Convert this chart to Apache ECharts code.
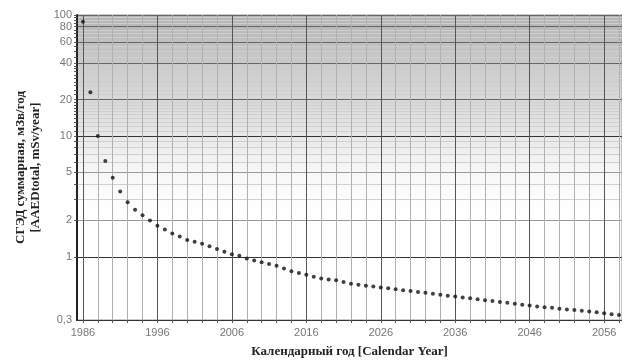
<!DOCTYPE html>
<html>
<head>
<meta charset="utf-8">
<script src="https://cdn.jsdelivr.net/npm/echarts@6/dist/echarts.min.js"></script>
<style>
  html, body { margin: 0; padding: 0; background: #fff; }
  #chart { width: 622px; height: 363px; }
</style>
</head>
<body>
<div id="chart"></div>
<script>
// calendar years, one point per year
const years = [
  1986, 1987, 1988, 1989, 1990, 1991, 1992, 1993, 1994, 1995,
  1996, 1997, 1998, 1999, 2000, 2001, 2002, 2003, 2004, 2005,
  2006, 2007, 2008, 2009, 2010, 2011, 2012, 2013, 2014, 2015,
  2016, 2017, 2018, 2019, 2020, 2021, 2022, 2023, 2024, 2025,
  2026, 2027, 2028, 2029, 2030, 2031, 2032, 2033, 2034, 2035,
  2036, 2037, 2038, 2039, 2040, 2041, 2042, 2043, 2044, 2045,
  2046, 2047, 2048, 2049, 2050, 2051, 2052, 2053, 2054, 2055,
  2056, 2057, 2058
];
// СГЭД суммарная, мЗв/год
const dose = [
  88, 23, 10, 6.2, 4.5, 3.47, 2.83, 2.45, 2.21, 2.0,
  1.81, 1.68, 1.56, 1.47, 1.38, 1.33, 1.28, 1.22, 1.16, 1.10,
  1.05, 1.02, 0.966, 0.933, 0.902, 0.872, 0.842, 0.80, 0.759, 0.734,
  0.709, 0.685, 0.662, 0.650, 0.640, 0.618, 0.597, 0.587, 0.577, 0.567,
  0.557, 0.548, 0.538, 0.529, 0.520, 0.511, 0.503, 0.494, 0.486, 0.477,
  0.469, 0.461, 0.453, 0.446, 0.438, 0.431, 0.423, 0.416, 0.409, 0.402,
  0.395, 0.388, 0.382, 0.378, 0.372, 0.367, 0.363, 0.358, 0.353, 0.347,
  0.341, 0.335, 0.330
];
// tick labels
const xLabels = [1986, 1996, 2006, 2016, 2026, 2036, 2046, 2056];
const yLabels = [0.3, 1, 2, 5, 10, 20, 40, 60, 80, 100];

// grid lines: every 2 years, darker every 10
let xGrid = [];
for (let y = 1986; y <= 2058; y += 2) xGrid.push(y);
const xGridColors = xGrid.map(v => (v - 1986) % 10 === 0 ? '#555' : '#b0b0b0');

const yGrid = [1, 2, 3, 4, 5, 6, 7, 8, 9, 10, 11, 12, 13, 14, 15, 16, 17, 18, 19,
  20, 22, 24, 26, 28, 30, 32, 34, 36, 38, 40, 45, 50, 55, 60, 65, 70, 75, 80, 85, 90, 95, 100];
const yGridColors = yGrid.map(v => {
  if (v === 1 || v === 10) return '#333';
  if ([20, 40, 60, 80, 100].includes(v)) return '#666';
  if (v === 2 || v === 5) return '#999';
  return '#cfcfcf';
});

let chart = echarts.init(document.getElementById('chart'));
let option = {
  animation: false,
  grid: {
    left: 77,
    right: 0,
    top: 15,
    bottom: 42,
    show: true,
    borderColor: '#999',
    borderWidth: 1,
    backgroundColor: new echarts.graphic.LinearGradient(0, 0, 0, 1, [
      { offset: 0, color: '#b4b4b4' },
      { offset: 0.15, color: '#c9c9c9' },
      { offset: 0.35, color: '#e2e2e2' },
      { offset: 0.5, color: '#f6f6f6' },
      { offset: 0.65, color: '#ffffff' }
    ])
  },
  xAxis: {
    type: 'value',
    min: 1985.2,
    max: 2058.4,
    name: 'Календарный год [Calendar Year]',
    nameLocation: 'middle',
    nameGap: 25,
    nameTextStyle: {
      fontFamily: 'Liberation Serif',
      fontWeight: 'bold',
      fontSize: 13,
      color: '#222'
    },
    axisLine: { show: true, lineStyle: { color: '#333', width: 1 } },
    axisTick: {
      show: true,
      length: 3,
      lineStyle: { color: '#555' },
      customValues: xGrid
    },
    axisLabel: {
      customValues: xLabels,
      fontFamily: 'Liberation Sans',
      fontSize: 11,
      color: '#777',
      margin: 7,
      formatter: v => String(v)
    },
    splitLine: {
      show: true,
      lineStyle: { color: xGridColors, width: 1 }
    }
  },
  yAxis: {
    type: 'log',
    logBase: 10,
    min: 0.3,
    max: 100,
    name: 'СГЭД суммарная, мЗв/год\n[AAEDtotal, mSv/year]',
    nameLocation: 'middle',
    nameRotate: 90,
    nameGap: 30,
    nameTextStyle: {
      fontFamily: 'Liberation Serif',
      fontWeight: 'bold',
      fontSize: 13,
      lineHeight: 15,
      color: '#222'
    },
    axisLine: { show: true, lineStyle: { color: '#222', width: 2 } },
    axisTick: {
      show: true,
      length: 3,
      lineStyle: { color: '#555' },
      customValues: yGrid
    },
    axisLabel: {
      customValues: yLabels,
      fontFamily: 'Liberation Sans',
      fontSize: 11,
      color: '#777',
      margin: 5,
      formatter: v => String(v).replace('.', ',')
    },
    splitLine: {
      show: true,
      lineStyle: { color: yGridColors, width: 1 }
    }
  },
  series: [
    {
      type: 'scatter',
      symbol: 'circle',
      symbolSize: 4,
      itemStyle: { color: '#111' },
      data: years.map((y, i) => [y, dose[i]])
    }
  ]
};
chart.setOption(option);
</script>
</body>
</html>
